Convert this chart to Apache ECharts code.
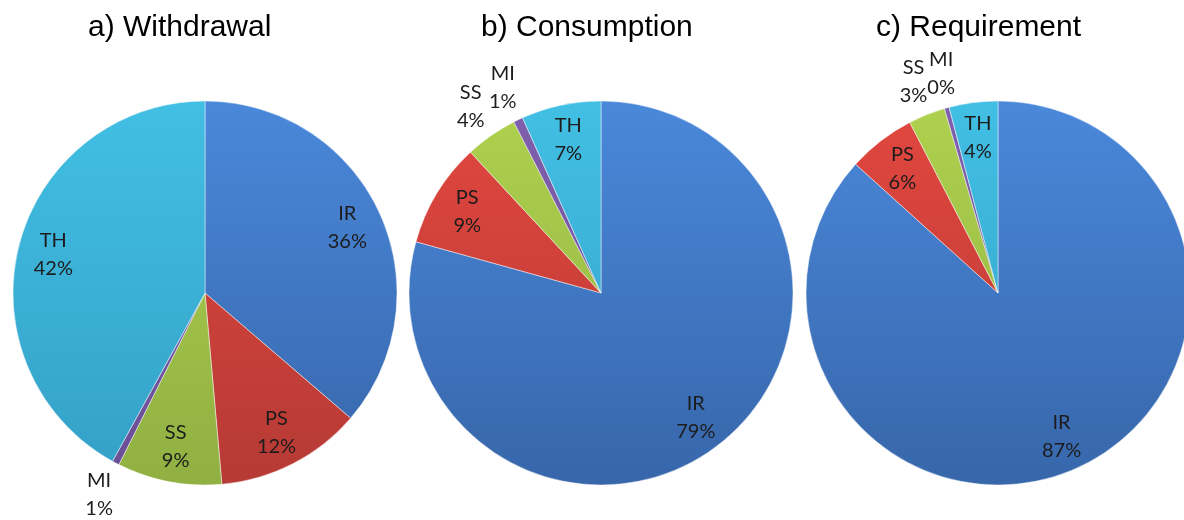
<!DOCTYPE html>
<html>
<head>
<meta charset="utf-8">
<script src="https://cdn.jsdelivr.net/npm/echarts@6/dist/echarts.min.js"></script>
<style>
  html, body { margin: 0; padding: 0; background: #fff; }
  #main { width: 1184px; height: 520px; }
</style>
</head>
<body>
<div id="main"></div>
<script>
// sectors, clockwise from 12 o'clock
var sectors = ['IR', 'PS', 'SS', 'MI', 'TH'];
// shares in percent
var withdrawal  = [36.3, 12.3, 8.8, 0.6, 42.0];
var consumption = [79.3, 8.8, 4.4, 0.8, 6.7];
var requirement = [86.7, 5.7, 3.1, 0.4, 4.1];
var panelTitles = ['a) Withdrawal', 'b) Consumption', 'c) Requirement'];

// which labels sit outside the pie (Excel "best fit")
var outsideLabels = [['MI'], ['SS', 'MI'], ['SS', 'MI']];

// [top colour, bottom colour] per sector
var sectorColors = [
    ['#4a88da', '#3766aa'],
    ['#e2473f', '#b63a35'],
    ['#aed14e', '#90b042'],
    ['#7f60ad', '#6a4e95'],
    ['#42bfe4', '#34a0c6']
];

var panels = [
    {title: panelTitles[0], values: withdrawal,  cx: 205, cy: 293, titleLeft: 83},
    {title: panelTitles[1], values: consumption, cx: 601, cy: 293, titleLeft: 476},
    {title: panelTitles[2], values: requirement, cx: 998, cy: 293, titleLeft: 871}
];
var R = 192;

var chart = echarts.init(document.getElementById('main'));

function fillFor(i, p) {
    return {
        type: 'linear', global: true,
        x: p.cx, y: p.cy - R, x2: p.cx, y2: p.cy + R,
        colorStops: [
            {offset: 0, color: sectorColors[i][0]},
            {offset: 1, color: sectorColors[i][1]}
        ]
    };
}

function labelText(p) {
    return p.name + '\n' + Math.round(p.percent) + '%';
}

var labelStyle = {
    fontFamily: 'Lato, "Open Sans", sans-serif',
    fontSize: 20,
    lineHeight: 28,
    color: '#1c1c1c'
};

var series = [];
var titles = [];
panels.forEach(function (p, k) {
    titles.push({
        text: p.title,
        left: p.titleLeft,
        top: 8,
        textStyle: {fontFamily: '"Liberation Sans", Arial, sans-serif', fontSize: 30, fontWeight: 'normal', color: '#000'}
    });
    // the visible pie
    series.push({
        type: 'pie',
        center: [p.cx, p.cy],
        radius: [0, R],
        startAngle: 90,
        silent: true,
        avoidLabelOverlap: false,
        label: {show: false},
        labelLine: {show: false},
        itemStyle: {borderColor: 'rgba(255,255,255,0.45)', borderWidth: 1},
        data: sectors.map(function (s, i) {
            return {name: s, value: p.values[i], itemStyle: {color: fillFor(i, p)}};
        })
    });
    // transparent ring carrying the inside labels at ~0.8 R
    series.push({
        type: 'pie',
        center: [p.cx, p.cy],
        radius: [R * 0.6, R],
        startAngle: 90,
        silent: true,
        avoidLabelOverlap: false,
        itemStyle: {color: 'rgba(0,0,0,0)'},
        labelLine: {show: false},
        label: Object.assign({position: 'inside', formatter: labelText}, labelStyle),
        data: sectors.map(function (s, i) {
            return {name: s, value: p.values[i],
                label: {show: outsideLabels[k].indexOf(s) < 0}};
        })
    });
    // transparent ring carrying the outside labels at ~1.17 R
    series.push({
        type: 'pie',
        center: [p.cx, p.cy],
        radius: [R, R * 1.34],
        startAngle: 90,
        silent: true,
        avoidLabelOverlap: false,
        labelLayout: {hideOverlap: false, moveOverlap: 'shiftX'},
        itemStyle: {color: 'rgba(0,0,0,0)'},
        labelLine: {show: false},
        label: Object.assign({position: 'inside', formatter: labelText}, labelStyle),
        data: sectors.map(function (s, i) {
            return {name: s, value: p.values[i],
                label: {show: outsideLabels[k].indexOf(s) >= 0}};
        })
    });
});

chart.setOption({
    animation: false,
    title: titles,
    series: series
});
</script>
</body>
</html>
